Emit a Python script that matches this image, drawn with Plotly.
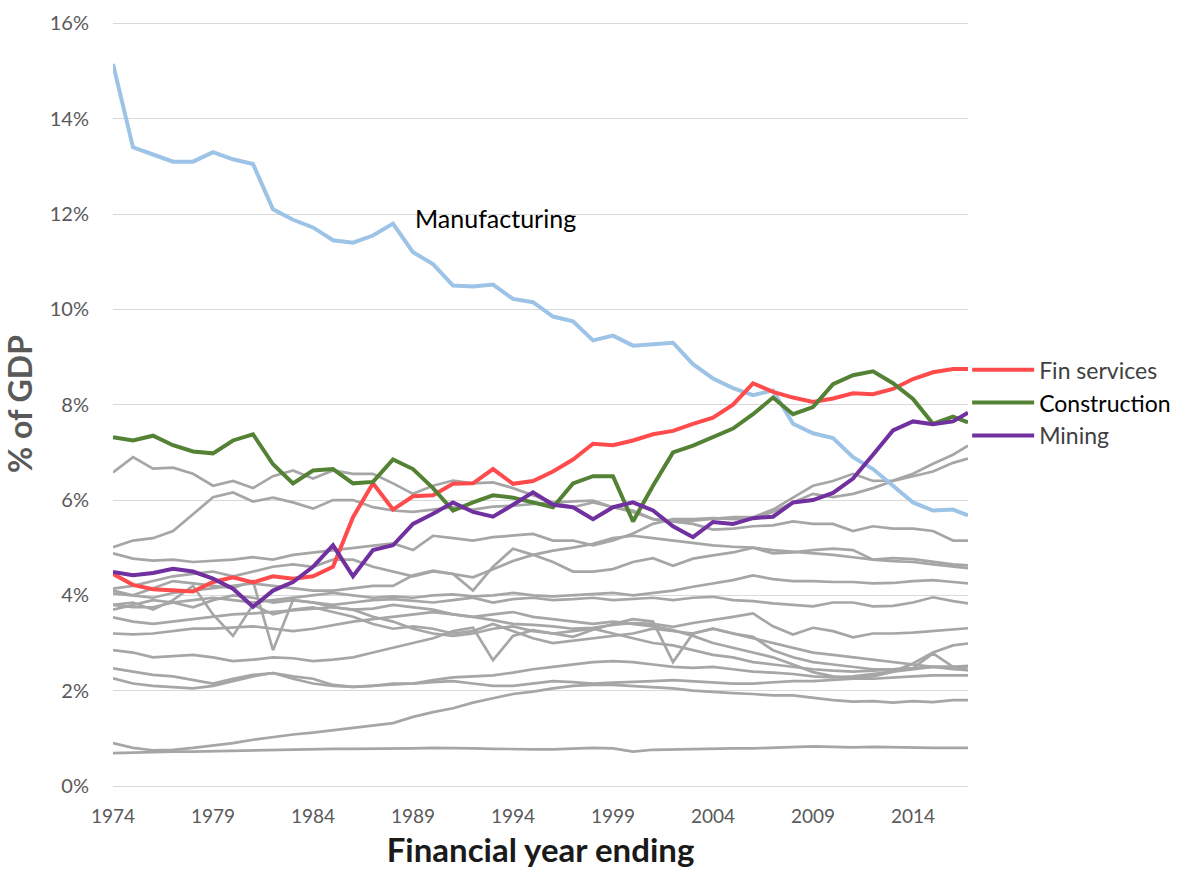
import plotly.graph_objects as go

# ---------------- data ----------------
YEARS = [1974, 1975, 1976, 1977, 1978, 1979, 1980, 1981, 1982, 1983,
         1984, 1985, 1986, 1987, 1988, 1989, 1990, 1991, 1992, 1993,
         1994, 1995, 1996, 1997, 1998, 1999, 2000, 2001, 2002, 2003,
         2004, 2005, 2006, 2007, 2008, 2009, 2010, 2011, 2012, 2013,
         2014, 2015, 2016, 2016.75]
TICK_YEARS = [1974, 1979, 1984, 1989, 1994, 1999, 2004, 2009, 2014]
Y_TICKS = [0, 2, 4, 6, 8, 10, 12, 14, 16]
Y_TICK_LABELS = ["0%", "2%", "4%", "6%", "8%", "10%", "12%", "14%", "16%"]

manufacturing = [15.15, 13.4, 13.25, 13.1, 13.1, 13.3, 13.15, 13.05, 12.1, 11.88,
                 11.72, 11.45, 11.4, 11.55, 11.8, 11.2, 10.95, 10.5, 10.48, 10.52,
                 10.22, 10.15, 9.85, 9.75, 9.35, 9.45, 9.24, 9.28, 9.3, 8.85,
                 8.55, 8.35, 8.2, 8.3, 7.6, 7.4, 7.3, 6.9, 6.65, 6.3,
                 5.95, 5.78, 5.8, 5.68]
fin_services = [4.45, 4.22, 4.13, 4.1, 4.08, 4.28, 4.38, 4.27, 4.4, 4.35,
                4.4, 4.6, 5.64, 6.35, 5.8, 6.08, 6.1, 6.34, 6.35, 6.65,
                6.34, 6.4, 6.6, 6.85, 7.18, 7.15, 7.25, 7.38, 7.45, 7.6,
                7.73, 8.0, 8.45, 8.27, 8.15, 8.06, 8.13, 8.24, 8.22, 8.33,
                8.54, 8.68, 8.75, 8.75]
construction = [7.32, 7.25, 7.35, 7.15, 7.02, 6.98, 7.25, 7.38, 6.75, 6.35,
                6.62, 6.65, 6.35, 6.38, 6.85, 6.65, 6.25, 5.78, 5.95, 6.1,
                6.05, 5.95, 5.85, 6.35, 6.5, 6.5, 5.55, 6.3, 7.0, 7.14,
                7.32, 7.5, 7.8, 8.15, 7.8, 7.95, 8.43, 8.62, 8.7, 8.45,
                8.12, 7.6, 7.75, 7.63]
mining = [4.49, 4.42, 4.47, 4.56, 4.5, 4.35, 4.14, 3.76, 4.1, 4.28,
          4.6, 5.05, 4.4, 4.95, 5.05, 5.5, 5.71, 5.95, 5.75, 5.65,
          5.9, 6.16, 5.9, 5.85, 5.6, 5.85, 5.95, 5.78, 5.45, 5.22,
          5.54, 5.5, 5.62, 5.65, 5.95, 6.0, 6.15, 6.45, 6.95, 7.46,
          7.65, 7.59, 7.65, 7.83]

# other industries (grey)
g01 = [6.58, 6.9, 6.66, 6.68, 6.55, 6.3, 6.4, 6.25, 6.5, 6.62,
       6.45, 6.62, 6.55, 6.55, 6.35, 6.13, 6.3, 6.41, 6.35, 6.37,
       6.25, 6.1, 5.95, 5.85, 5.95, 5.85, 5.75, 5.6, 5.55, 5.5,
       5.38, 5.4, 5.45, 5.47, 5.55, 5.5, 5.5, 5.35, 5.45, 5.4,
       5.4, 5.35, 5.15, 5.15]
g02 = [5.01, 5.15, 5.2, 5.35, 5.7, 6.06, 6.16, 5.97, 6.05, 5.95,
       5.82, 6.0, 6.0, 5.85, 5.78, 5.75, 5.8, 5.85, 5.8, 5.86,
       5.88, 5.92, 5.95, 5.97, 5.99, 5.85, 5.78, 5.6, 5.55, 5.57,
       5.6, 5.64, 5.64, 5.8, 6.05, 6.3, 6.4, 6.55, 6.4, 6.41,
       6.55, 6.76, 6.95, 7.14]
g03 = [4.88, 4.77, 4.73, 4.75, 4.7, 4.72, 4.75, 4.8, 4.75, 4.85,
       4.9, 4.95, 5.0, 5.05, 5.09, 4.95, 5.25, 5.2, 5.15, 5.22,
       5.25, 5.29, 5.15, 5.15, 5.05, 5.15, 5.3, 5.5, 5.6, 5.6,
       5.62, 5.6, 5.62, 5.75, 5.95, 6.13, 6.06, 6.13, 6.25, 6.4,
       6.5, 6.6, 6.78, 6.87]
g04 = [4.14, 4.2, 4.3, 4.4, 4.45, 4.5, 4.4, 4.5, 4.6, 4.65,
       4.6, 4.75, 4.75, 4.6, 4.5, 4.4, 4.5, 4.45, 4.1, 4.6,
       4.98, 4.85, 4.7, 4.5, 4.5, 4.55, 4.7, 4.78, 4.62, 4.77,
       4.84, 4.9, 5.0, 4.88, 4.9, 4.95, 4.98, 4.95, 4.75, 4.78,
       4.76, 4.7, 4.65, 4.63]
g05 = [4.04, 4.0, 3.95, 4.05, 4.1, 4.15, 4.2, 4.25, 4.2, 4.15,
       4.1, 4.1, 4.15, 4.2, 4.2, 4.42, 4.52, 4.45, 4.38, 4.55,
       4.72, 4.85, 4.94, 5.0, 5.08, 5.2, 5.25, 5.2, 5.15, 5.1,
       5.05, 5.02, 5.0, 4.95, 4.92, 4.88, 4.85, 4.8, 4.75, 4.72,
       4.7, 4.65, 4.6, 4.57]
g06 = [3.8, 3.75, 3.75, 3.85, 3.9, 3.95, 3.9, 3.85, 3.9, 3.95,
       4.0, 4.05, 4.0, 3.95, 3.98, 3.95, 4.0, 4.02, 3.98, 4.0,
       4.05, 4.0, 3.98, 4.0, 4.02, 4.05, 4.0, 4.05, 4.1, 4.18,
       4.25, 4.32, 4.42, 4.34, 4.3, 4.3, 4.28, 4.28, 4.25, 4.26,
       4.3, 4.32, 4.28, 4.25]
g07 = [3.7, 3.8, 3.9, 3.85, 3.75, 3.9, 4.0, 3.95, 3.85, 3.9,
       3.85, 3.8, 3.85, 3.9, 3.92, 3.88, 3.85, 3.9, 3.95, 3.85,
       3.92, 3.95, 3.9, 3.92, 3.95, 3.9, 3.92, 3.95, 3.9, 3.95,
       3.97, 3.9, 3.88, 3.83, 3.8, 3.77, 3.85, 3.85, 3.77, 3.78,
       3.85, 3.96, 3.88, 3.83]
g08 = [3.54, 3.45, 3.4, 3.45, 3.5, 3.55, 3.6, 3.62, 3.65, 3.68,
       3.72, 3.75, 3.7, 3.72, 3.8, 3.75, 3.7, 3.6, 3.55, 3.48,
       3.4, 3.38, 3.35, 3.3, 3.32, 3.38, 3.42, 3.4, 3.34, 3.42,
       3.48, 3.55, 3.62, 3.35, 3.18, 3.32, 3.25, 3.12, 3.2, 3.2,
       3.22, 3.25, 3.28, 3.31]
g09 = [3.2, 3.18, 3.2, 3.25, 3.3, 3.3, 3.32, 3.35, 3.3, 3.25,
       3.3, 3.38, 3.45, 3.5, 3.55, 3.6, 3.65, 3.6, 3.55, 3.6,
       3.65, 3.55, 3.5, 3.45, 3.4, 3.45, 3.4, 3.35, 3.27, 3.15,
       3.0, 2.9, 2.8, 2.7, 2.55, 2.39, 2.3, 2.26, 2.3, 2.4,
       2.57, 2.8, 2.95, 2.99]
g10 = [4.1, 4.0, 4.15, 4.3, 4.25, 4.2, 4.15, 4.3, 2.85, 3.9,
       3.85, 3.75, 3.7, 3.55, 3.45, 3.3, 3.2, 3.15, 3.2, 3.3,
       3.35, 3.25, 3.2, 3.25, 3.3, 3.2, 3.1, 3.0, 2.95, 2.85,
       2.75, 2.7, 2.6, 2.55, 2.5, 2.45, 2.42, 2.4, 2.42, 2.45,
       2.48, 2.5, 2.5, 2.5]
g11 = [3.8, 3.85, 3.7, 3.9, 4.2, 3.6, 3.15, 3.8, 3.6, 3.7,
       3.75, 3.65, 3.55, 3.4, 3.3, 3.35, 3.3, 3.2, 3.25, 3.4,
       3.25, 3.1, 3.0, 3.05, 3.1, 3.15, 3.2, 3.3, 3.25, 3.2,
       3.3, 3.2, 3.1, 3.0, 2.9, 2.8, 2.75, 2.7, 2.65, 2.6,
       2.55, 2.5, 2.45, 2.43]
g12 = [2.85, 2.8, 2.7, 2.72, 2.75, 2.7, 2.62, 2.65, 2.7, 2.68,
       2.62, 2.65, 2.7, 2.8, 2.9, 3.0, 3.1, 3.25, 3.32, 2.64,
       3.15, 3.27, 3.2, 3.13, 3.28, 3.4, 3.5, 3.45, 2.6, 3.2,
       3.3, 3.2, 3.13, 2.85, 2.7, 2.6, 2.55, 2.5, 2.45, 2.45,
       2.47, 2.78, 2.5, 2.43]
g13 = [2.47, 2.4, 2.33, 2.3, 2.22, 2.15, 2.25, 2.33, 2.37, 2.3,
       2.25, 2.12, 2.08, 2.1, 2.15, 2.15, 2.18, 2.2, 2.15, 2.1,
       2.1, 2.15, 2.2, 2.18, 2.15, 2.17, 2.18, 2.2, 2.22, 2.2,
       2.18, 2.15, 2.15, 2.18, 2.2, 2.2, 2.22, 2.25, 2.25, 2.28,
       2.3, 2.32, 2.32, 2.32]
g14 = [0.9, 0.8, 0.75, 0.76, 0.8, 0.85, 0.9, 0.97, 1.03, 1.08,
       1.12, 1.17, 1.22, 1.27, 1.32, 1.45, 1.55, 1.63, 1.75, 1.84,
       1.93, 1.98, 2.05, 2.1, 2.12, 2.12, 2.1, 2.08, 2.05, 2.0,
       1.97, 1.95, 1.93, 1.9, 1.9, 1.85, 1.8, 1.77, 1.78, 1.75,
       1.78, 1.76, 1.8, 1.8]
g15 = [0.69, 0.7, 0.72, 0.72, 0.72, 0.73, 0.74, 0.75, 0.75, 0.76,
       0.77, 0.78, 0.78, 0.78, 0.79, 0.79, 0.8, 0.8, 0.79, 0.78,
       0.77, 0.77, 0.77, 0.78, 0.8, 0.79, 0.72, 0.76, 0.77, 0.78,
       0.78, 0.79, 0.79, 0.8, 0.82, 0.83, 0.82, 0.81, 0.82, 0.81,
       0.8, 0.8, 0.8, 0.8]
g16 = [2.26, 2.15, 2.1, 2.08, 2.05, 2.1, 2.2, 2.3, 2.37, 2.25,
       2.15, 2.1, 2.08, 2.1, 2.12, 2.15, 2.22, 2.28, 2.3, 2.32,
       2.38, 2.45, 2.5, 2.55, 2.6, 2.62, 2.6, 2.55, 2.5, 2.48,
       2.5, 2.45, 2.4, 2.38, 2.35, 2.3, 2.28, 2.3, 2.35, 2.4,
       2.45, 2.5, 2.5, 2.52]

other_industries = [g01, g02, g03, g04, g05, g06, g07, g08,
                    g09, g10, g11, g12, g13, g14, g15, g16]

GREY = "#A6A6A6"
BLUE = "#9DC3E6"
RED = "#FF4B4B"
GREEN = "#548235"
PURPLE = "#7030A0"
FONT = "Lato, Calibri, 'Open Sans', sans-serif"

fig = go.Figure()

for series in other_industries:
    fig.add_trace(go.Scatter(x=YEARS, y=series, mode="lines",
                             line=dict(color=GREY, width=2.7),
                             showlegend=False, hoverinfo="skip"))

fig.add_trace(go.Scatter(x=YEARS, y=manufacturing, mode="lines", name="Manufacturing",
                         line=dict(color=BLUE, width=4), showlegend=False))
fig.add_trace(go.Scatter(x=YEARS, y=fin_services, mode="lines", name="Fin services",
                         line=dict(color=RED, width=4)))
fig.add_trace(go.Scatter(x=YEARS, y=construction, mode="lines",
                         name="<span style='color:#000000'>Construction</span>",
                         line=dict(color=GREEN, width=4)))
fig.add_trace(go.Scatter(x=YEARS, y=mining, mode="lines", name="Mining",
                         line=dict(color=PURPLE, width=4)))

fig.add_annotation(x=1989, y=11.92, xref="x", yref="y", text="Manufacturing",
                   showarrow=False, xanchor="left", yanchor="middle",
                   font=dict(family=FONT, size=25, color="#000000"))

fig.update_layout(
    width=1191, height=870, autosize=False,
    margin=dict(l=113, r=223, t=22, b=84),
    paper_bgcolor="white", plot_bgcolor="white",
    font=dict(family=FONT, color="#595959"),
    legend=dict(x=0.999, xanchor="left", y=0.573, yanchor="top",
                bgcolor="rgba(0,0,0,0)", traceorder="normal",
                font=dict(family=FONT, size=23, color="#404040"),
                itemwidth=62, tracegroupgap=0),
    xaxis=dict(range=[1974, 2016.75], tickmode="array", tickvals=TICK_YEARS,
               ticktext=[str(t) for t in TICK_YEARS], automargin=False,
               showgrid=False, zeroline=False, showline=False, ticks="",
               ticklabelstandoff=17,
               tickfont=dict(family="'Liberation Sans Narrow', Lato",
                             size=19, color="#595959"),
               title=dict(text="<b>Financial year ending</b>", standoff=12,
                          font=dict(family=FONT, size=33, color="#1A1A1A"))),
    yaxis=dict(range=[0, 16.03], tickmode="array", tickvals=Y_TICKS,
               ticktext=Y_TICK_LABELS, automargin=False,
               showgrid=True, gridcolor="#D9D9D9", gridwidth=1,
               zeroline=True, zerolinecolor="#D9D9D9", zerolinewidth=1,
               showline=False, ticks="", ticklabelstandoff=23,
               tickfont=dict(family=FONT, size=20, color="#595959"),
               title=dict(text="<b>% of GDP</b>", standoff=22,
                          font=dict(family=FONT, size=32, color="#595959"))),
)

fig.write_html("out.html", config={"displayModeBar": False},
               post_script="document.body.style.margin='0px';")
